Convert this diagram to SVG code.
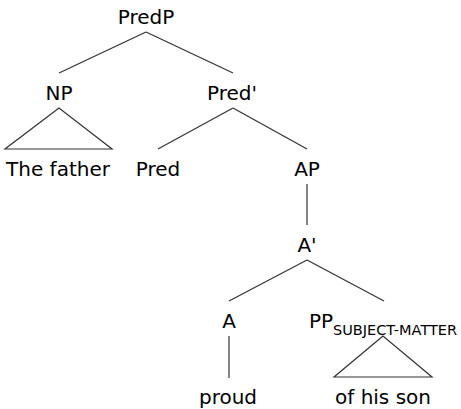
<svg xmlns="http://www.w3.org/2000/svg" width="461" height="409" viewBox="0 0 461 409">
<style>
text{font-family:"DejaVu Sans",sans-serif;font-size:20px;fill:#000;text-anchor:middle}
.sub{font-size:14.5px;text-anchor:start}
.e{stroke:#333;stroke-width:1.2;fill:none}
</style>
<rect width="461" height="409" fill="#fff"/>
<g id="edges">
<line class="e" x1="146" y1="32" x2="59" y2="73"/>
<line class="e" x1="146" y1="32" x2="233" y2="73"/>
<polygon class="e" points="59,108 5,149 112,149"/>
<line class="e" x1="233" y1="108" x2="158" y2="149"/>
<line class="e" x1="233" y1="108" x2="307" y2="149"/>
<line class="e" x1="307" y1="184" x2="307" y2="225"/>
<line class="e" x1="307" y1="260" x2="229" y2="301"/>
<line class="e" x1="307" y1="260" x2="384" y2="301"/>
<line class="e" x1="229" y1="336" x2="229" y2="378"/>
<polygon class="e" points="383,336 334,377 432,377"/>
</g>
<g id="PredP"><text x="146" y="24">PredP</text></g>
<g id="NP"><text x="59" y="100">NP</text></g>
<g id="Predbar"><text x="232" y="100">Pred'</text></g>
<g id="thefather"><text x="58" y="176">The father</text></g>
<g id="Pred"><text x="158" y="176">Pred</text></g>
<g id="AP"><text x="307" y="176">AP</text></g>
<g id="Abar"><text x="307" y="252">A'</text></g>
<g id="A"><text x="229" y="328">A</text></g>
<g id="PP"><text x="309" y="328" style="text-anchor:start">PP</text><text class="sub" x="333" y="335">SUBJECT-MATTER</text></g>
<g id="proud"><text x="228" y="404">proud</text></g>
<g id="ofhisson"><text x="383" y="404">of his son</text></g>
</svg>
